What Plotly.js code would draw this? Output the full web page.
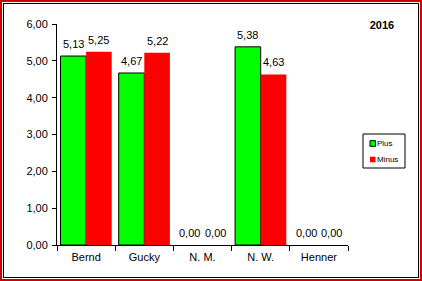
<!DOCTYPE html>
<html>
<head>
<meta charset="utf-8">
<script src="https://cdn.plot.ly/plotly-3.0.1.min.js"></script>
<style>
html,body{margin:0;padding:0;background:#fff;}
#wrap{position:relative;width:422px;height:281px;overflow:hidden;}
#chart{position:absolute;left:0;top:0;width:422px;height:281px;}
#outer{position:absolute;left:0;top:0;width:422px;height:281px;box-sizing:border-box;border:2px solid #d00000;pointer-events:none;}
#inner{position:absolute;left:3px;top:3px;width:416px;height:275px;box-sizing:border-box;border:1px solid #000;pointer-events:none;}
</style>
</head>
<body>
<div id="wrap">
<div id="chart"></div>
<div id="outer"></div>
<div id="inner"></div>
</div>
<script>
var categories = ["Bernd", "Gucky", "N. M.", "N. W.", "Henner"];
var plusValues = [5.13, 4.67, 0.00, 5.38, 0.00];
var minusValues = [5.25, 5.22, 0.00, 4.63, 0.00];
var yTickVals = [0, 1, 2, 3, 4, 5, 6];
var seriesNames = ["Plus", "Minus"];
var seriesColors = ["#00ff00", "#ff0000"];

var font = "Liberation Sans, Arial, sans-serif";
var W = 422, H = 281;
var M = {l: 57, r: 74, t: 24, b: 36};
var pw = W - M.l - M.r, ph = H - M.t - M.b;
function px(xp) { return (xp - M.l) / pw; }
function py(yp) { return (H - M.b - yp) / ph; }

var bargap = 0.12;
var halfW = (1 - bargap) / 4;

var traces = [
  {
    type: "bar", name: seriesNames[0], x: categories, y: plusValues,
    marker: {color: seriesColors[0], line: {color: "#000", width: plusValues.map(function (v) { return v > 0 ? 1 : 0; })}},
    showlegend: false, hoverinfo: "none"
  },
  {
    type: "bar", name: seriesNames[1], x: categories, y: minusValues,
    marker: {color: seriesColors[1], line: {width: 0}},
    showlegend: false, hoverinfo: "none"
  }
];

var annotations = [];
[plusValues, minusValues].forEach(function (vals, s) {
  vals.forEach(function (v, i) {
    annotations.push({
      xref: "x", yref: "y", x: i + (s === 0 ? -halfW : halfW), y: v,
      text: v.toFixed(2).replace(".", ","), showarrow: false,
      xanchor: "center", yanchor: "bottom", yshift: 4,
      font: {family: font, size: 11, color: "#000"}
    });
  });
});

// custom legend
var shapes = [
  {type: "rect", xref: "paper", yref: "paper", x0: px(363), x1: px(405), y0: py(168), y1: py(134),
   line: {color: "#000", width: 1}, fillcolor: "#fff", layer: "above"}
];
var legY = [143.5, 159.5];
seriesNames.forEach(function (name, s) {
  shapes.push({type: "rect", xref: "paper", yref: "paper", x0: px(370), x1: px(375.5), y0: py(legY[s] + 2.8), y1: py(legY[s] - 2.8),
    line: {color: s === 0 ? "#000" : seriesColors[s], width: s === 0 ? 1 : 0}, fillcolor: seriesColors[s], layer: "above"});
  annotations.push({xref: "paper", yref: "paper", x: px(375), y: py(legY[s]), xanchor: "left", yanchor: "middle",
    text: name, showarrow: false, font: {family: font, size: 8, color: "#000"}});
});

var layout = {
  width: W, height: H,
  margin: M,
  paper_bgcolor: "#fff", plot_bgcolor: "#fff",
  separators: ",.",
  font: {family: font, size: 11, color: "#000"},
  barmode: "group", bargap: bargap, bargroupgap: 0,
  showlegend: false,
  title: {text: "<b>2016</b>", x: 0.905, xanchor: "center", y: 0.911, yanchor: "middle", font: {family: font, size: 11, color: "#000"}},
  xaxis: {
    type: "category", showline: true, linecolor: "#000", linewidth: 1,
    ticks: "outside", tickson: "boundaries", ticklen: 5, tickcolor: "#000",
    showgrid: false, zeroline: false, ticklabelstandoff: 2,
    tickfont: {family: font, size: 11, color: "#000"}
  },
  yaxis: {
    range: [0, 6], tickvals: yTickVals, tickformat: ".2f",
    showline: true, linecolor: "#000", linewidth: 1,
    ticks: "outside", ticklen: 4, tickcolor: "#000",
    showgrid: false, zeroline: false, ticklabelstandoff: 2,
    tickfont: {family: font, size: 11, color: "#000"}
  },
  annotations: annotations,
  shapes: shapes
};

Plotly.newPlot("chart", traces, layout, {displayModeBar: false, staticPlot: true});
</script>
</body>
</html>
